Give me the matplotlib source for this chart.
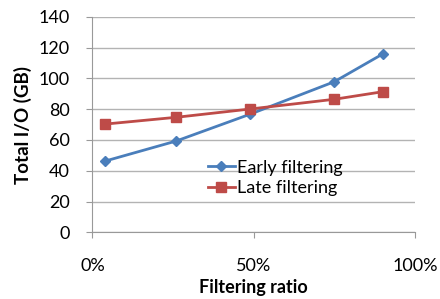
import matplotlib
matplotlib.use("Agg")
import matplotlib.pyplot as plt
from matplotlib.ticker import PercentFormatter

plt.rcParams['font.family'] = ['Lato', 'DejaVu Sans']

# filtering ratio (fraction) and total I/O in GB
ratio = [0.04, 0.26, 0.49, 0.75, 0.90]
early = [46.3, 59.3, 76.8, 97.8, 115.8]
late = [70.3, 74.7, 80.1, 86.4, 91.3]

fig = plt.figure(figsize=(4.4, 2.99), dpi=100)
ax = fig.add_axes([0.21, 0.223, 0.733, 0.721])

ax.plot(ratio, early, color='#4A7EBB', lw=2, marker='D', ms=5.5, label='Early filtering')
ax.plot(ratio, late, color='#BE4B48', lw=2, marker='s', ms=6.5, label='Late filtering')

ax.set_xlim(0, 1)
ax.set_ylim(0, 140)
ax.set_xticks([0, 0.5, 1])
ax.xaxis.set_major_formatter(PercentFormatter(1.0, decimals=0))
ax.set_yticks(range(0, 141, 20))

ax.yaxis.grid(True, color='#b3b3b3', lw=1)
ax.set_axisbelow(True)
for s in ['top', 'right']:
    ax.spines[s].set_visible(False)
for s in ['left', 'bottom']:
    ax.spines[s].set_color('#999999')
ax.tick_params(axis='both', colors='#999999', labelcolor='black', labelsize=13, length=4.3)
ax.tick_params(axis='x', pad=14)
ax.tick_params(axis='y', pad=12)

ax.set_xlabel('Filtering ratio', fontsize=13, fontweight='bold', labelpad=4)
ax.set_ylabel('Total I/O (GB)', fontsize=13.5, fontweight='bold', labelpad=5)

ax.legend(loc='center left', bbox_to_anchor=(0.33, 0.252), frameon=False,
          fontsize=13, handlelength=1.5, handletextpad=0.1, labelspacing=0.25,
          borderpad=0)

fig.savefig('out.png', dpi=100)
